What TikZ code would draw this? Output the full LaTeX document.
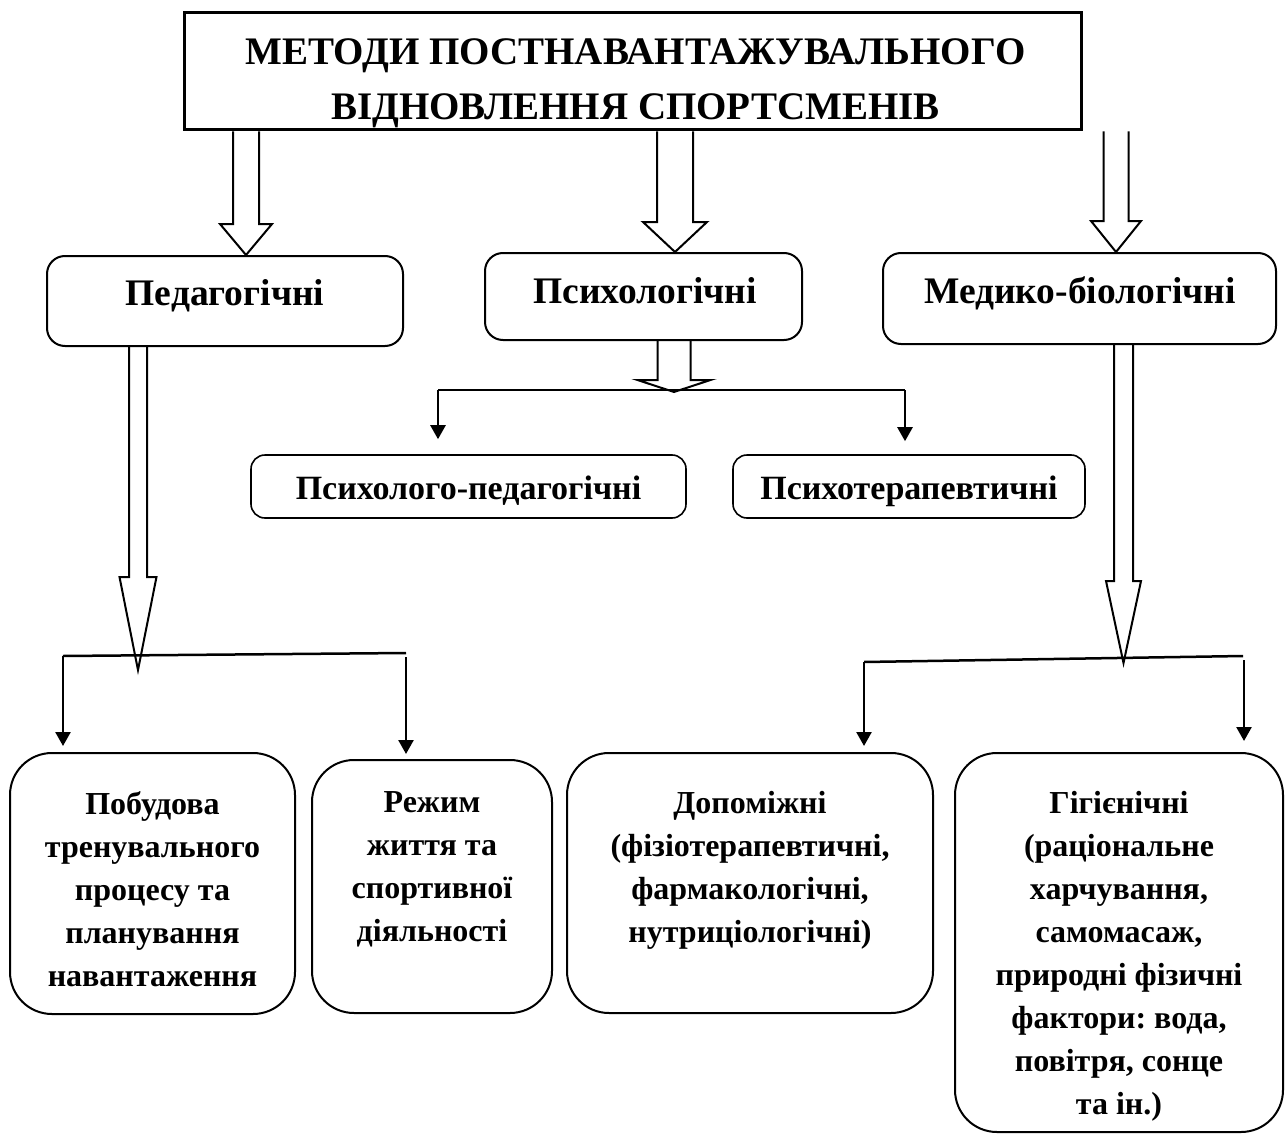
\documentclass[tikz,border=0pt]{standalone}
\usepackage{fontspec}
\setmainfont{Liberation Serif}
\usetikzlibrary{arrows.meta,calc}
\frenchspacing
\newcommand\hollowarrow[5]{%
  \draw[harr] let \p1=(#1), \p2=(#2) in
    (\x2-#3,\y1) -- (\x2-#3,\y2+#5) -- (\x2-#4,\y2+#5) -- (\x2,\y2)
    -- (\x2+#4,\y2+#5) -- (\x2+#3,\y2+#5) -- (\x2+#3,\y1);}
\begin{document}
\begin{tikzpicture}[x=1pt,y=-1pt,
  lvl0/.style={draw,line width=3pt,minimum width=897pt,minimum height=117pt,inner sep=0pt},
  ttl/.style={align=center,inner sep=0pt,font=\fontsize{39}{55}\selectfont\bfseries},
  lvl1/.style={draw,line width=2pt,rounded corners=18pt,inner sep=0pt},
  txt1/.style={anchor=base,inner sep=0pt,font=\fontsize{37.5}{42}\selectfont\bfseries},
  lvl2/.style={draw,line width=1.6pt,rounded corners=14pt,inner sep=0pt},
  txt2/.style={anchor=base,inner sep=0pt,font=\fontsize{34}{36}\selectfont\bfseries},
  lvl3/.style={draw,line width=2pt,rounded corners=42pt,inner sep=0pt},
  txt3/.style={anchor=north,align=center,inner sep=0pt,font=\fontsize{32}{43}\selectfont\bfseries},
  harr/.style={draw,line width=2pt,line join=miter},
  conn/.style={line width=2.5pt,-{Triangle[length=14pt,width=15pt]}},
  bar/.style={line width=2.5pt}]
\useasboundingbox (0,0) rectangle (1287,1142);
% boxes
\node[lvl0] (top) at (632.5,71.5) {};
\node[ttl] (ttlt) at ($(top.center)+(3,12)$) {МЕТОДИ ПОСТНАВАНТАЖУВАЛЬНОГО\\ВІДНОВЛЕННЯ СПОРТСМЕНІВ};
\node[lvl1,minimum width=356pt,minimum height=90pt] (ped) at (225,301) {};
\node[lvl1,minimum width=317pt,minimum height=87pt] (psy) at (643.5,296.5) {};
\node[lvl1,minimum width=393pt,minimum height=91pt] (med) at (1079.5,298.5) {};
\node[txt1] (pedt) at (225,305) {Педагогічні};
\node[txt1] (psyt) at (645,303) {Психологічні};
\node[txt1] (medt) at (1080,303) {Медико-біологічні};
\node[lvl2,minimum width=435pt,minimum height=63pt] (pp) at (468.5,486.5) {};
\node[lvl2,minimum width=352pt,minimum height=63pt] (pt) at (909,486.5) {};
\node[txt2] (ppt) at (468.5,499) {Психолого-педагогічні};
\node[txt2] (ptt) at (909,499) {Психотерапевтичні};
\node[lvl3,minimum width=285pt,minimum height=261pt] (b1) at (152.5,883.5) {};
\node[lvl3,minimum width=240pt,minimum height=253pt] (b2) at (432,886.5) {};
\node[lvl3,minimum width=366pt,minimum height=260pt] (b3) at (750,883) {};
\node[lvl3,minimum width=328pt,minimum height=379pt] (b4) at (1119,942.5) {};
\node[txt3] (t1) at (b1.center |- 0,791) {Побудова\\тренувального\\процесу та\\планування\\навантаження};
\node[txt3] (t2) at (b2.center |- 0,791) {Режим\\життя та\\спортивної\\діяльності};
\node[txt3] (t3) at (b3.center |- 0,791) {Допоміжні\\(фізіотерапевтичні,\\фармакологічні,\\нутриціологічні)};
\node[txt3] (t4) at (b4.center |- 0,791) {Гігієнічні\\(раціональне\\харчування,\\самомасаж,\\природні фізичні\\фактори: вода,\\повітря, сонце\\та ін.)};
% hollow arrows
\coordinate (xL) at (246,0);
\coordinate (xM) at (675,0);
\coordinate (xR) at (1116,0);
\hollowarrow{top.south -| xL}{ped.north -| xL}{13pt}{26pt}{31pt}
\hollowarrow{top.south -| xM}{psy.north -| xM}{18pt}{32pt}{30pt}
\hollowarrow{top.south -| xR}{med.north -| xR}{12.5pt}{25pt}{31pt}
\coordinate (pedTip) at (138,670);
\coordinate (psyTip) at (674,392);
\coordinate (medTip) at (1123.5,663);
\hollowarrow{ped.south -| pedTip}{pedTip}{9pt}{18.5pt}{93pt}
\hollowarrow{psy.south -| psyTip}{psyTip}{16.5pt}{36.5pt}{12pt}
\hollowarrow{med.south -| medTip}{medTip}{9.5pt}{17.5pt}{82pt}
% connectors
\coordinate (psL) at (438,390);
\coordinate (psR) at (905,390);
\draw[bar] (psL) -- (psR);
\draw[conn] (psL) -- ($(pp.north -| psL)+(0,-15)$);
\draw[conn] (psR) -- ($(pt.north -| psR)+(0,-13)$);
\coordinate (peL) at (63,656);
\coordinate (peR) at (406,653);
\coordinate (peR2) at (406,657);
\draw[bar] (peL) -- (peR);
\draw[conn] (peL) -- ($(b1.north -| peL)+(0,-6)$);
\draw[conn] (peR2) -- ($(b2.north -| peR2)+(0,-5)$);
\coordinate (meL) at (864,662);
\coordinate (meR) at (1243,656);
\coordinate (meR2) at (1244,660);
\draw[bar] (meL) -- (meR);
\draw[conn] (meL) -- ($(b3.north -| meL)+(0,-6)$);
\draw[conn] (meR2) -- ($(b4.north -| meR2)+(0,-11)$);
\end{tikzpicture}
\end{document}
